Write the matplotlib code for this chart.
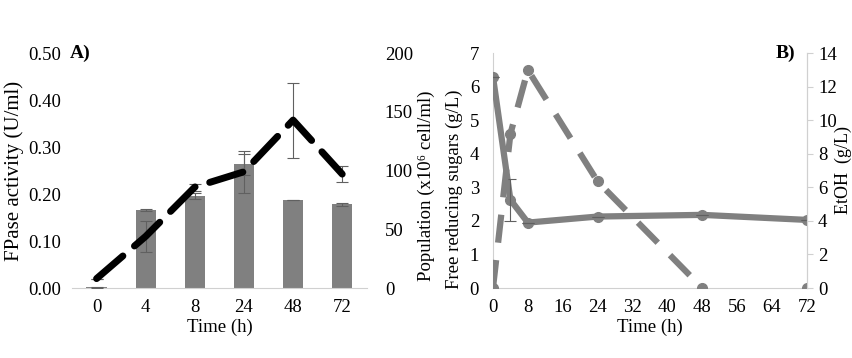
import matplotlib
matplotlib.use('Agg')
from matplotlib import pyplot
import matplotlib.ticker as ticker

pyplot.rcParams['font.family'] = ['Liberation Serif', 'DejaVu Serif']
pyplot.rcParams['font.size'] = 13.5

# panel A: FPase bars and population line
cats_a = ['0', '4', '8', '24', '48', '72']
fpase = [0.002, 0.167, 0.196, 0.263, 0.187, 0.178]
fpase_err = [0.001, 0.002, 0.007, 0.022, 0.0005, 0.003]
population = [8, 44, 86, 99, 143, 97]
population_err = [0, 13, 3, 18, 32, 7]

# panel B: sugars and ethanol
time_b = [0, 4, 8, 24, 48, 72]
sugars = [6.3, 2.63, 1.95, 2.13, 2.18, 2.03]
sugars_err = [0, 0.62, 0, 0, 0, 0]
etoh = [0, 9.19, 13.0, 6.35, 0, 0]

grey = '#808080'
axis_grey = '#d0d0d0'

fig = pyplot.figure(figsize=(8.52, 3.58), dpi=100)

# ---------- A ----------
ax1 = fig.add_axes([0.0845, 0.1955, 0.346, 0.656])
pos = list(range(len(cats_a)))
ax1.bar(pos, fpase, width=0.41, color=grey, zorder=2)
ax1.errorbar(pos, fpase, yerr=fpase_err, fmt='none', ecolor='#606060',
             elinewidth=0.8, capsize=4, capthick=0.8, zorder=3)
ax1.set_xlim(-0.5, len(cats_a) - 0.5)
ax1.set_ylim(0, 0.5)
ax1.yaxis.set_major_locator(ticker.MultipleLocator(0.1))
ax1.yaxis.set_major_formatter(ticker.FormatStrFormatter('%.2f'))
ax1.set_xticks(pos)
ax1.set_xticklabels(cats_a)
for s in ['top', 'right', 'left']:
    ax1.spines[s].set_visible(False)
ax1.spines['bottom'].set_color(axis_grey)
ax1.tick_params(length=0, pad=8)
ax1.set_xlabel('Time (h)', labelpad=2)
ax1.set_ylabel('FPase activity (U/ml)', fontsize=15, labelpad=3)

ax1r = ax1.twinx()
ax1r.plot(pos, population, color='black', lw=5, dashes=(5, 2.2),
          dash_capstyle='round', zorder=4)
ax1r.errorbar(pos, population, yerr=population_err, fmt='none',
              ecolor='#606060', elinewidth=0.8, capsize=4, capthick=0.8)
ax1r.set_ylim(0, 200)
ax1r.yaxis.set_major_locator(ticker.MultipleLocator(50))
for s in ['top', 'right', 'left', 'bottom']:
    ax1r.spines[s].set_visible(False)
ax1r.tick_params(length=0, pad=13)

fig.text(0.082, 0.85, 'A)', fontsize=14, fontweight='bold', va='center')
fig.text(0.500, 0.48, 'Population (x10⁶ cell/ml)', rotation=90,
         ha='center', va='center')

# ---------- B ----------
ax2 = fig.add_axes([0.5786, 0.1955, 0.3685, 0.656])
ax2.plot(time_b, sugars, color=grey, lw=4.5, marker='o', ms=7, zorder=3)
ax2.errorbar(time_b, sugars, yerr=sugars_err, fmt='none', ecolor='#606060',
             elinewidth=0.8, capsize=4, capthick=0.8, zorder=4)
ax2.set_xlim(0, 72)
ax2.set_ylim(0, 7)
ax2.xaxis.set_major_locator(ticker.MultipleLocator(8))
ax2.yaxis.set_major_locator(ticker.MultipleLocator(1))
ax2.spines['top'].set_visible(False)
for s in ['left', 'right', 'bottom']:
    ax2.spines[s].set_color(axis_grey)
ax2.tick_params(length=0, pad=8)
ax2.tick_params(axis='y', pad=10)
ax2.set_xlabel('Time (h)', labelpad=2)
fig.text(0.533, 0.47, 'Free reducing sugars (g/L)', rotation=90,
         ha='center', va='center')

ax2r = ax2.twinx()
ax2r.plot(time_b[:5], etoh[:5], color=grey, lw=4.5, dashes=(4.5, 2.8),
          zorder=2)
ax2r.plot(time_b, etoh, color=grey, lw=0, marker='o', ms=7, zorder=2)
ax2r.set_ylim(0, 14)
ax2r.yaxis.set_major_locator(ticker.MultipleLocator(2))
for s in ['top', 'left', 'bottom']:
    ax2r.spines[s].set_visible(False)
ax2r.spines['right'].set_color(axis_grey)
ax2r.tick_params(axis='y', length=4, color=axis_grey, pad=4)
fig.text(0.990, 0.525, 'EtOH  (g/L)', rotation=90, ha='center', va='center',
         fontsize=13)

fig.text(0.91, 0.85, 'B)', fontsize=14, fontweight='bold', va='center')

fig.savefig('out.png')
